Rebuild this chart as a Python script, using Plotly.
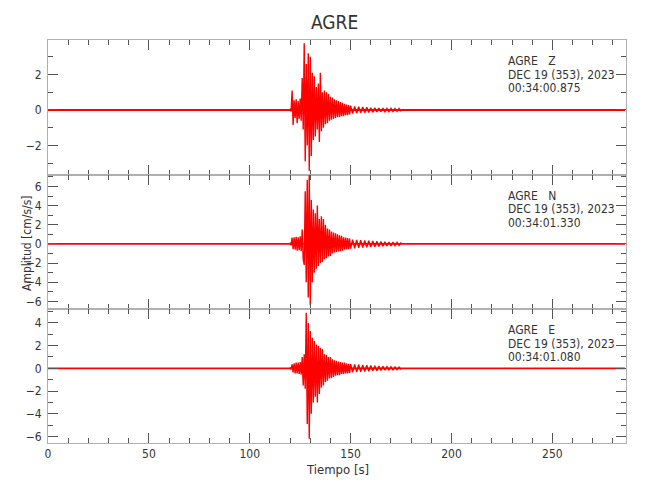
import numpy as np
import plotly.graph_objects as go
from plotly.subplots import make_subplots

# ---------------- data ----------------
station = "AGRE"
components = ["Z", "N", "E"]
start_times = ["00:34:00.875", "00:34:01.330", "00:34:01.080"]
date_label = "DEC 19 (353), 2023"

# sampling of read extremes: every 0.5 s in the strong part, every 1 s in the coda
t_fast = np.arange(120.0, 150.01, 0.5)
t_slow = np.arange(151.0, 175.01, 1.0)

z_fast = [0.08, -0.08, 1.1, -0.85, 0.55, -0.45, 0.6, -0.75, 0.5, -0.5,
          0.65, -0.6, 1.8, -1.1, 3.77, -2.9, 2.6, -2.0, 3.2, -3.43,
          3.0, -2.6, 2.1, -1.7, 1.9, -1.5, 1.3, -1.1, 1.5, -1.8,
          2.1, -1.2, 1.0, -1.0, 1.1, -0.8, 1.0, -0.75, 0.9, -0.6,
          0.75, -0.55, 0.7, -0.5, 0.6, -0.45, 0.55, -0.4, 0.5, -0.4,
          0.45, -0.35, 0.4, -0.35, 0.35, -0.3, 0.3, -0.3, 0.28, -0.25,
          0.25]
z_slow = [-0.2, 0.2, -0.18, 0.18, -0.16, 0.17, -0.15, 0.15, -0.14, 0.13,
          -0.12, 0.13, -0.11, 0.11, -0.1, 0.1, -0.1, 0.09, -0.09, 0.09,
          -0.08, 0.08, -0.08, 0.08, -0.08]

n_fast = [0.15, -0.15, 0.65, -0.55, 0.7, -0.6, 0.75, -0.7, 0.7, -0.65,
          0.8, -0.75, 1.5, -1.6, -2.2, 5.5, -4.0, 6.7, -5.6, 7.5,
          -6.4, 4.6, -4.0, 3.6, -3.0, 3.2, -2.6, 4.0, -2.3, 2.6,
          -2.0, 2.9, -1.9, 2.6, -1.6, 2.0, -1.5, 1.6, -1.3, 1.5,
          -1.25, 1.3, -1.0, 1.2, -0.9, 1.1, -0.85, 1.0, -0.8, 0.9,
          -0.75, 0.85, -0.7, 0.7, -0.6, 0.66, -0.55, 0.6, -0.55, 0.55,
          -0.5]
n_slow = [0.45, -0.45, 0.42, -0.42, 0.4, -0.38, 0.36, -0.35, 0.33, -0.32,
          0.3, -0.3, 0.28, -0.27, 0.25, -0.25, 0.23, -0.22, 0.2, -0.2,
          0.18, -0.18, 0.16, -0.16, 0.15]

e_fast = [0.1, -0.1, 0.35, -0.35, 0.45, -0.45, 0.5, -0.45, 0.5, -0.5,
          0.55, -0.55, 1.0, -1.5, 1.25, -1.8, 4.9, -4.9, 4.0, -6.2,
          3.3, -4.0, 2.7, -3.0, 2.4, -2.5, 2.1, -3.0, 2.0, -2.25,
          1.8, -1.7, 1.7, -1.5, 1.25, -1.2, 1.2, -1.1, 1.0, -0.9,
          1.0, -0.85, 0.8, -0.75, 0.7, -0.65, 0.67, -0.6, 0.6, -0.6,
          0.55, -0.5, 0.5, -0.5, 0.5, -0.45, 0.45, -0.45, 0.4, -0.4,
          0.4]
e_slow = [-0.35, 0.35, -0.33, 0.32, -0.3, 0.3, -0.28, 0.27, -0.25, 0.25,
          -0.22, 0.22, -0.2, 0.2, -0.18, 0.18, -0.16, 0.15, -0.14, 0.14,
          -0.13, 0.12, -0.12, 0.11, -0.1]

# background noise half-width of each record, and record span
noise_level = [0.06, 0.1, 0.08]
record_span = [0.0, 286.0]

y_ranges = [[-3.67, 3.95], [-6.8, 7.2], [-6.58, 5.23]]
x_range = [0.0, 286.5]

fast_vals = [z_fast, n_fast, e_fast]
slow_vals = [z_slow, n_slow, e_slow]

# ---------------- figure ----------------
FONT = "DejaVu Sans Condensed, Liberation Sans Narrow, sans-serif"
TXT = "#333333"
RED = "#ff0000"

fig = make_subplots(rows=3, cols=1, shared_xaxes=True, vertical_spacing=0)

for i in range(3):
    r = i + 1
    nl = noise_level[i]
    fig.add_trace(go.Scatter(x=record_span, y=[-nl, -nl], mode="lines",
                             line=dict(width=0, color=RED), showlegend=False,
                             hoverinfo="skip"), row=r, col=1)
    fig.add_trace(go.Scatter(x=record_span, y=[nl, nl], mode="lines",
                             line=dict(width=0, color=RED), fill="tonexty",
                             fillcolor=RED, showlegend=False,
                             hoverinfo="skip"), row=r, col=1)
    tt = np.concatenate([t_fast, t_slow])
    vv = np.concatenate([fast_vals[i], slow_vals[i]])
    fig.add_trace(go.Scatter(x=tt, y=vv, mode="lines",
                             line=dict(width=1.4, color=RED), showlegend=False),
                  row=r, col=1)

# layout geometry (figure pixels; the page adds an 8 px body margin)
OFF = 8
W, H = 650 - OFF, 500 - OFF
L, T = 48 - OFF, 40 - OFF
R = W - (626 - OFF)
B = H - (443 - OFF)
ph = H - T - B
pw = W - L - R
panel_px = [(40, 175), (175, 309), (309, 443)]  # screenshot pixels

def px_x(x):
    return (x - OFF - L) / pw

def px_y(y):
    return 1 - (y - OFF - T) / ph

def ydom(top, bot):
    return [px_y(bot), px_y(top)]

axis_common = dict(showline=True, linecolor="#b0b0b0", linewidth=1,
                   mirror="allticks", ticks="inside", ticklen=10, tickwidth=1,
                   tickcolor="#555555", showgrid=False, automargin=False,
                   tickfont=dict(family=FONT, size=12, color=TXT))

for i in range(3):
    r = i + 1
    top, bot = panel_px[i]
    fig.update_yaxes(row=r, col=1, range=y_ranges[i], domain=ydom(top, bot),
                     dtick=2, tick0=0, zeroline=True, zerolinecolor="black",
                     zerolinewidth=1, ticklabelstandoff=3,
                     minor=dict(ticks="inside", ticklen=5, dtick=1,
                                tickcolor="#555555", showgrid=False),
                     **axis_common)
    fig.update_xaxes(row=r, col=1, range=x_range, dtick=50, tick0=0,
                     zeroline=False, showticklabels=(r == 3),
                     minor=dict(ticks="inside", ticklen=5, dtick=10,
                                tickcolor="#555555", showgrid=False),
                     **axis_common)

annotations = []
for i in range(3):
    top, bot = panel_px[i]
    lines = [f"{station}   {components[i]}", date_label, start_times[i]]
    for k, txt in enumerate(lines):
        py = top + 21 + k * 13.5
        annotations.append(dict(text=txt, xref="paper", yref="paper",
                                x=px_x(506), y=px_y(py),
                                xanchor="left", yanchor="middle", showarrow=False,
                                font=dict(family=FONT, size=12, color=TXT)))

annotations.append(dict(text="Amplitud [cm/s/s]", xref="paper", yref="paper",
                        x=px_x(27), y=px_y(243),
                        xanchor="center", yanchor="middle", textangle=-90,
                        showarrow=False, font=dict(family=FONT, size=12, color=TXT)))
annotations.append(dict(text="Tiempo [s]", xref="paper", yref="paper",
                        x=px_x(337), y=px_y(469),
                        xanchor="center", yanchor="middle",
                        showarrow=False, font=dict(family=FONT, size=13, color=TXT)))
annotations.append(dict(text=station, xref="paper", yref="paper",
                        x=px_x(334), y=px_y(22),
                        xanchor="center", yanchor="middle",
                        showarrow=False, font=dict(family=FONT, size=19, color=TXT)))

fig.update_layout(width=W, height=H, margin=dict(l=L, r=R, t=T, b=B),
                  plot_bgcolor="white", paper_bgcolor="white",
                  showlegend=False, annotations=annotations,
                  font=dict(family=FONT, color=TXT))

fig.write_html("out.html")
